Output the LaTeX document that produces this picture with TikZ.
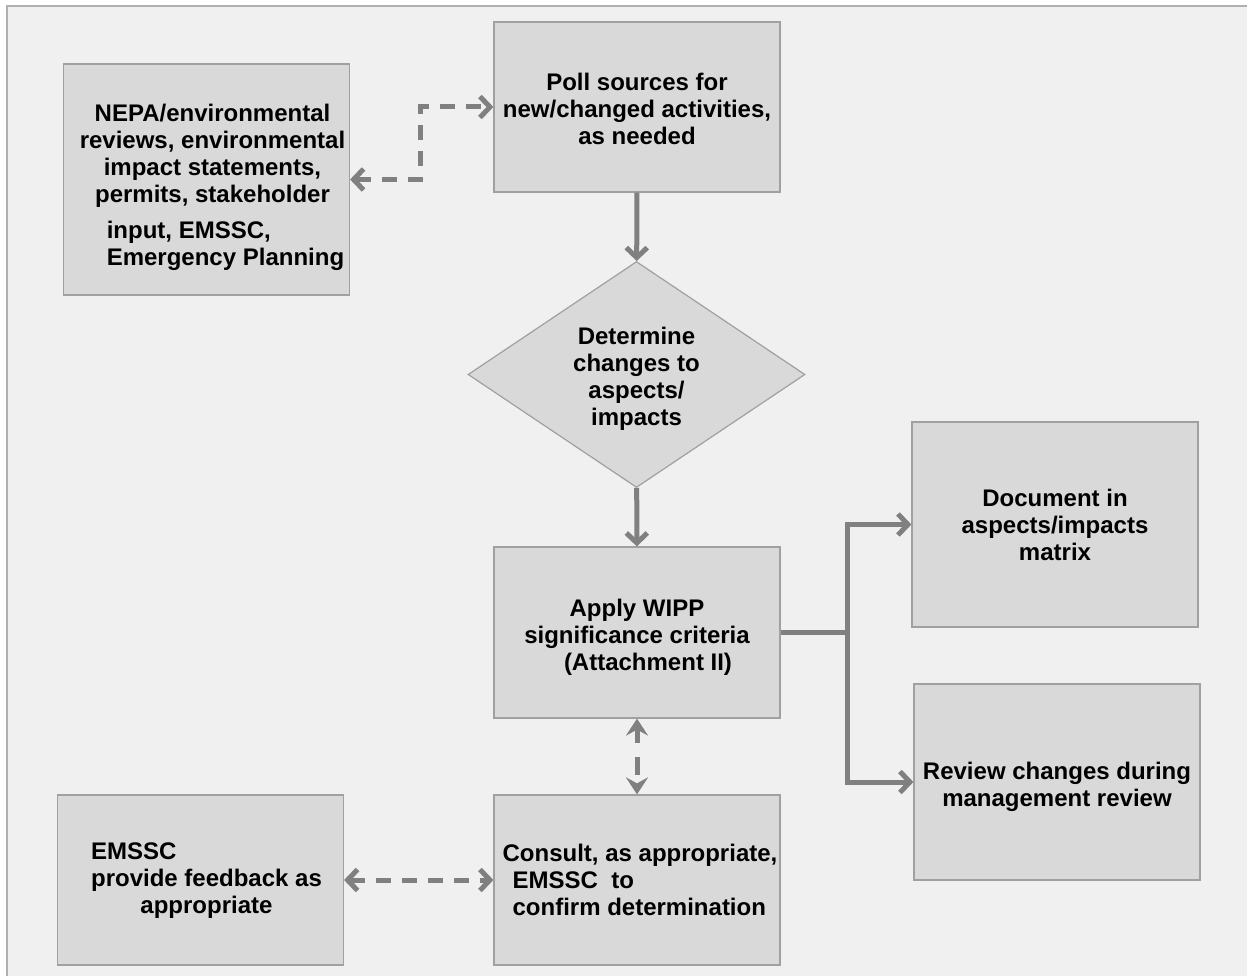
\documentclass[tikz,border=0pt]{standalone}
\usepackage{fontspec}
\setmainfont{Liberation Sans}
\usetikzlibrary{shapes.geometric,arrows.meta}

\definecolor{boxgray}{HTML}{D9D9D9}
\definecolor{linegray}{HTML}{808080}
\definecolor{edgegray}{HTML}{A0A0A0}
\definecolor{bggray}{HTML}{F0F0F0}
\definecolor{framegray}{HTML}{B0B0B0}

\begin{document}
\begin{tikzpicture}[
x=1pt, y=-1pt,
box/.style={draw=edgegray, line width=1.2pt, fill=boxgray, minimum width=\w, inner sep=0pt, align=center, font=\fontsize{24}{27}\selectfont\bfseries},
dia/.style={box, diamond, aspect=1.5, minimum width=337pt, minimum height=226pt},
link/.style={draw=linegray, line width=5pt, -{Straight Barb[length=10pt,width=21pt]}},
dlink/.style={link, dash pattern=on 15pt off 11pt, {Straight Barb[length=10pt,width=21pt]}-{Straight Barb[length=10pt,width=21pt]}},
slink/.style={link, dash pattern=on 18pt off 14pt, dash phase=4pt, {Stealth[length=17pt,width=22pt,inset=6pt]}-{Stealth[length=17pt,width=22pt,inset=6pt]}}
]

\def\w{286pt}

%%% page
\useasboundingbox (0,0) rectangle (1247,976);
\fill[white] (0,0) rectangle (1247,976);
\fill[bggray] (7,6) rectangle (1247,976);
\draw[framegray, line width=2pt] (1247,6) -- (7,6) -- (7,976);

%%% boxes
\node[box, minimum height=231pt] (nepa) at (206.5,179.5) {\rule{0pt}{33pt}\hspace*{12pt}NEPA/environmental\\\hspace*{12pt}reviews, environmental\\\hspace*{12pt}impact statements,\\\hspace*{12pt}permits, stakeholder\\[9pt]\hspace*{38pt}\rlap{input, EMSSC,}\phantom{Emergency Planning}\\\hspace*{38pt}Emergency Planning};
\node[box, minimum height=170pt] (poll) at (637,107) {\rule{0pt}{22pt}Poll sources for\\new/changed activities,\\as needed};
\node[dia] (change) at (636.5,374.5) {\rule{0pt}{26pt}Determine\\changes to\\aspects/\\impacts};
\node[box, minimum height=171pt] (apply) at (637,632.5) {\rule{0pt}{26pt}Apply WIPP\\significance criteria\\\hspace*{22pt}(Attachment II)};
\node[box, minimum height=205pt] (doc) at (1055,524.5) {Document in\\aspects/impacts\\matrix};
\node[box, minimum height=196pt] (review) at (1057,782) {\rule{0pt}{27pt}Review changes during\\management review};
\node[box, minimum height=170pt, align=left] (consult) at (637,880) {\hspace*{6pt}Consult, as appropriate,\\\hspace*{16pt}EMSSC\ \ to\\\hspace*{16pt}confirm determination};
\node[box, minimum height=170pt] (emssc) at (200.5,880) {\hspace*{12pt}\rlap{EMSSC}\phantom{provide feedback as}\\\hspace*{12pt}provide feedback as\\\hspace*{12pt}appropriate};

%%% connectors
\draw[dlink] (nepa.east) -- ++(70,0) |- (poll.west);
\draw[link] (poll) -- (change);
\draw[link] (change) -- (apply);
\draw[link, -] (apply.east) -- ++(67,0) coordinate(fork);
\draw[link] (fork) |- (doc.west);
\draw[link] (fork) |- (review.west);
\draw[slink] (apply) -- (consult);
\draw[dlink] (emssc) -- (consult);

\end{tikzpicture}
\end{document}
